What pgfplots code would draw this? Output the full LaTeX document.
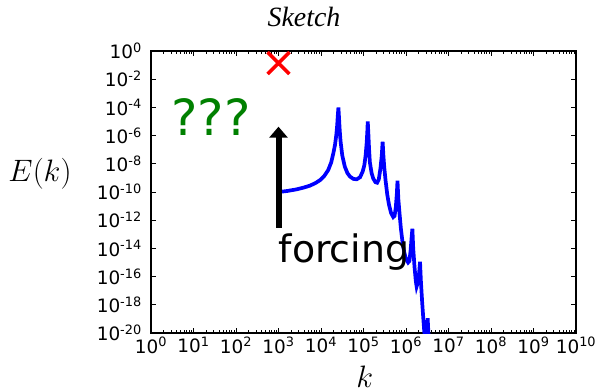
\documentclass[border=0pt]{standalone}
\usepackage{graphicx}
\usepackage{pgfplots}
\usepackage{pgfplotstable}
\pgfplotsset{compat=1.18}
\usepackage{fontspec}
\setmainfont{DejaVu Sans}
\newfontfamily\titlefont{Liberation Serif}
\usetikzlibrary{arrows.meta}
\pgfplotstableread{
lx ly
3.00 -10.00
3.20 -9.93
3.43 -9.81
3.60 -9.68
3.74 -9.55
3.88 -9.35
3.98 -9.15
4.08 -8.85
4.17 -8.44
4.24 -7.90
4.29 -7.26
4.33 -6.65
4.36 -5.95
4.38 -5.30
4.395 -4.60
4.41 -4.00
4.425 -4.80
4.44 -5.60
4.46 -6.40
4.50 -7.40
4.56 -8.20
4.62 -8.65
4.68 -8.90
4.76 -9.07
4.84 -9.10
4.92 -8.95
4.98 -8.55
5.02 -8.10
5.05 -7.40
5.075 -6.50
5.09 -5.70
5.10 -5.00
5.115 -5.90
5.13 -6.90
5.15 -7.90
5.19 -8.65
5.23 -9.05
5.28 -9.30
5.32 -9.34
5.36 -9.10
5.40 -8.30
5.43 -7.40
5.45 -6.43
5.47 -7.50
5.49 -8.30
5.52 -9.20
5.56 -10.20
5.60 -10.90
5.65 -11.50
5.70 -11.78
5.73 -11.70
5.76 -11.10
5.785 -10.10
5.80 -9.20
5.82 -10.50
5.85 -11.60
5.88 -12.60
5.92 -13.60
5.96 -14.30
6.00 -14.75
6.05 -15.00
6.08 -14.90
6.11 -14.10
6.13 -13.30
6.15 -12.60
6.17 -14.00
6.20 -15.30
6.23 -16.30
6.25 -16.70
6.28 -16.40
6.31 -15.70
6.33 -14.95
6.35 -16.30
6.38 -17.80
6.41 -19.10
6.44 -20.30
6.47 -20.80
6.49 -20.20
6.51 -18.96
6.53 -20.20
6.56 -21.50
}\spectrum
\begin{document}
\begin{tikzpicture}
\path[use as bounding box] (0,0) rectangle (597bp,392bp);
\begin{axis}[
  at={(151bp,59bp)}, anchor=south west,
  scale only axis, width=425bp, height=282bp,
  xmode=log, ymode=log,
  xmin=1, xmax=1e10, ymin=1e-20, ymax=1,
  axis line style={line width=1.2bp, black},
  every tick/.style={black, line width=0.9bp},
  major tick length=5bp, minor tick length=2.6bp,
  tick align=inside,
  xtick={1,1e1,1e2,1e3,1e4,1e5,1e6,1e7,1e8,1e9,1e10},
  xticklabels={10\textsuperscript{0},10\textsuperscript{1},10\textsuperscript{2},10\textsuperscript{3},10\textsuperscript{4},10\textsuperscript{5},10\textsuperscript{6},10\textsuperscript{7},10\textsuperscript{8},10\textsuperscript{9},10\textsuperscript{10}},
  minor xtick={2,3,4,5,6,7,8,9,
    2e1,3e1,4e1,5e1,6e1,7e1,8e1,9e1,
    2e2,3e2,4e2,5e2,6e2,7e2,8e2,9e2,
    2e3,3e3,4e3,5e3,6e3,7e3,8e3,9e3,
    2e4,3e4,4e4,5e4,6e4,7e4,8e4,9e4,
    2e5,3e5,4e5,5e5,6e5,7e5,8e5,9e5,
    2e6,3e6,4e6,5e6,6e6,7e6,8e6,9e6,
    2e7,3e7,4e7,5e7,6e7,7e7,8e7,9e7,
    2e8,3e8,4e8,5e8,6e8,7e8,8e8,9e8,
    2e9,3e9,4e9,5e9,6e9,7e9,8e9,9e9},
  ytick={1,1e-2,1e-4,1e-6,1e-8,1e-10,1e-12,1e-14,1e-16,1e-18,1e-20},
  yticklabels={10\textsuperscript{0},10\textsuperscript{-2},10\textsuperscript{-4},10\textsuperscript{-6},10\textsuperscript{-8},10\textsuperscript{-10},10\textsuperscript{-12},10\textsuperscript{-14},10\textsuperscript{-16},10\textsuperscript{-18},10\textsuperscript{-20}},
  yminorticks=false,
  ticklabel style={font=\fontsize{18.5}{22}\selectfont, inner sep=0pt},
  xticklabel style={yshift=-4bp},
  yticklabel style={xshift=-9bp},
  clip marker paths=true,
]
\addplot[blue, line width=3.7bp] table[x expr={10^(\thisrow{lx})}, y expr={10^(\thisrow{ly})}] {\spectrum};
\addplot[only marks, mark=x, mark size=15.5bp, red, mark options={line width=3.5bp}] coordinates {(1000,0.14)};
\addplot[-{Triangle[width=18bp,length=11bp]}, line width=6bp, black] coordinates {(1000,2.8e-13) (1000,4.3e-6)};
\node[anchor=base west, inner sep=0pt, text={rgb,255:red,0;green,128;blue,0}, font=\fontsize{50}{58}\selectfont] at (axis cs:3,1e-6) {???};
\node[anchor=base west, inner sep=0pt, font=\fontsize{38}{44}\selectfont] at (axis cs:1000,1e-15) {forcing};
\end{axis}
\node[anchor=base, inner sep=0pt, font=\titlefont\itshape\fontsize{28}{33}\selectfont] at (304bp,365bp) {Sketch};
\node[anchor=base, inner sep=0pt, font=\fontsize{24.88}{30}\selectfont] at (40bp,210.3bp) {\scalebox{1.25}{$E(k)$}};
\node[anchor=base, inner sep=0pt, font=\fontsize{24.88}{30}\selectfont] at (364.7bp,4.5bp) {\scalebox{1.25}{$k$}};
\end{tikzpicture}
\end{document}
